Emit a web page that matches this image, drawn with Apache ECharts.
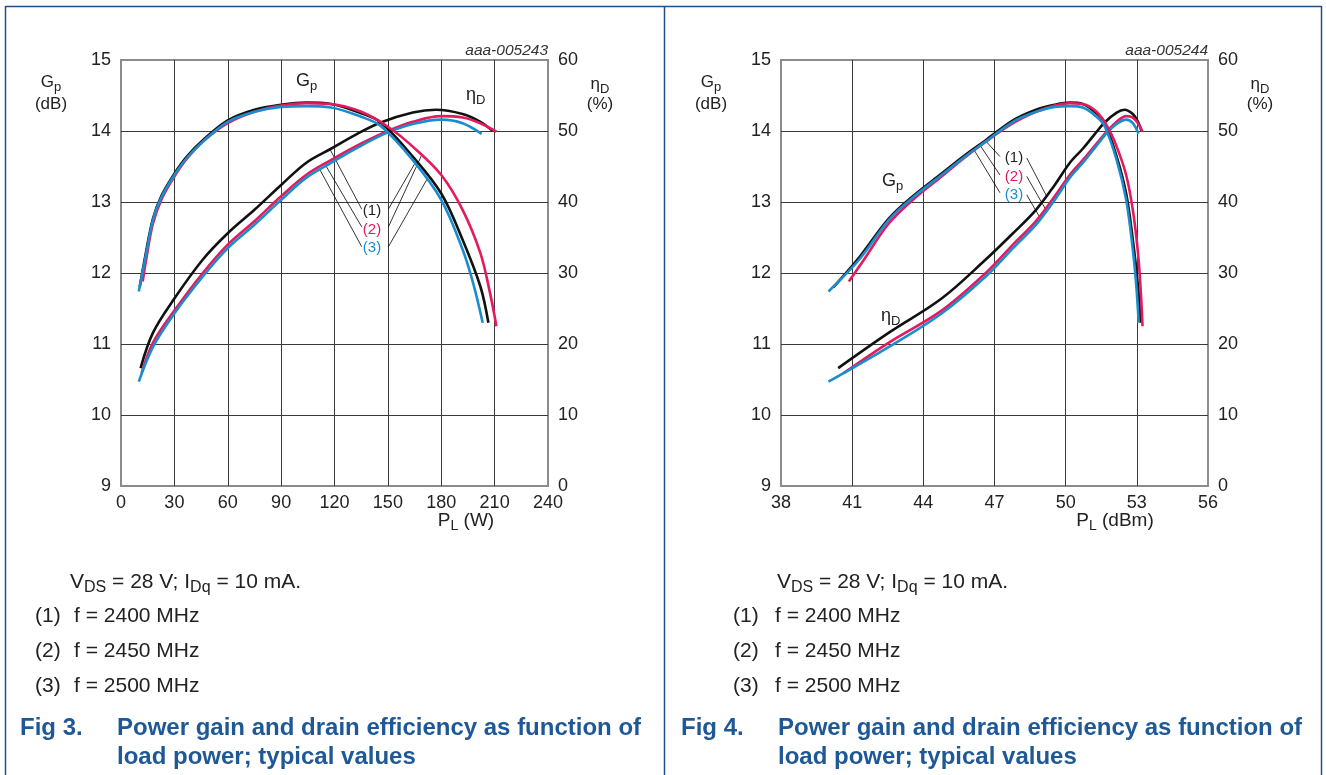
<!DOCTYPE html>
<html><head><meta charset="utf-8">
<script src="https://cdn.jsdelivr.net/npm/echarts@6/dist/echarts.min.js"></script>
<style>html,body{margin:0;padding:0;background:#fff}#c{width:1326px;height:775px}</style>
</head><body><div id="c"></div>
<script>
// ---------- data ----------
// x-axis ticks
const xTicksW = [0, 30, 60, 90, 120, 150, 180, 210, 240];
const xTicksDBm = [38, 41, 44, 47, 50, 53, 56];
// Power gain Gp (dB)
const gp1_W   = [10.5, 13.5, 18, 23, 30, 37, 46, 60, 75, 90, 104, 118, 135, 146, 164, 180, 192, 202, 206.5];
const gp1_dBm = [40.21, 41.30, 42.55, 43.62, 44.77, 45.68, 46.63, 47.78, 48.75, 49.54, 50.17, 50.72, 51.30, 51.64, 52.15, 52.55, 52.83, 53.05, 53.15];
const gp1     = [11.80, 12.22, 12.77, 13.10, 13.40, 13.64, 13.87, 14.15, 14.30, 14.37, 14.40, 14.38, 14.25, 14.12, 13.64, 13.12, 12.47, 11.81, 11.30];

const gp2_W   = [12.2, 14, 18, 23, 30, 37, 46, 60, 75, 90, 104, 118, 135, 150, 164, 180, 192, 202, 207.4, 211];
const gp2_dBm = [40.86, 41.46, 42.55, 43.62, 44.77, 45.68, 46.63, 47.78, 48.75, 49.54, 50.17, 50.72, 51.30, 51.76, 52.15, 52.55, 52.83, 53.05, 53.17, 53.24];
const gp2     = [11.88, 12.17, 12.70, 13.05, 13.36, 13.61, 13.85, 14.11, 14.27, 14.36, 14.39, 14.38, 14.27, 14.06, 13.78, 13.38, 12.89, 12.28, 11.72, 11.25];

const gp3_W   = [10, 13.5, 18, 23, 30, 37, 46, 60, 75, 90, 104, 118, 135, 146, 164, 180, 192, 198, 203.3];
const gp3_dBm = [40.00, 41.30, 42.55, 43.62, 44.77, 45.68, 46.63, 47.78, 48.75, 49.54, 50.17, 50.72, 51.30, 51.64, 52.15, 52.55, 52.83, 52.97, 53.08];
const gp3     = [11.74, 12.19, 12.75, 13.08, 13.38, 13.62, 13.85, 14.13, 14.27, 14.34, 14.35, 14.33, 14.20, 14.07, 13.59, 13.03, 12.33, 11.85, 11.30];

// Drain efficiency etaD (%)
const eta1_W   = [11, 18, 30, 46, 60, 75, 90, 104, 118, 132, 146, 164, 177, 192, 202, 209];
const eta1_dBm = [40.41, 42.55, 44.77, 46.63, 47.78, 48.75, 49.54, 50.17, 50.72, 51.21, 51.64, 52.15, 52.48, 52.83, 53.05, 53.20];
const eta1     = [16.6, 21.6, 26.4, 31.9, 35.6, 38.9, 42.4, 45.5, 47.5, 49.5, 51.2, 52.6, 53.0, 52.4, 51.3, 50.0];

const eta2_W   = [11.6, 18, 30, 46, 60, 75, 90, 104, 118, 134, 150, 164, 180, 192, 202, 211];
const eta2_dBm = [40.64, 42.55, 44.77, 46.63, 47.78, 48.75, 49.54, 50.17, 50.72, 51.27, 51.76, 52.15, 52.55, 52.83, 53.05, 53.24];
const eta2     = [15.9, 20.2, 24.7, 30.0, 34.0, 37.3, 40.8, 43.8, 45.9, 48.1, 50.0, 51.3, 52.1, 51.9, 51.1, 49.9];

const eta3_W   = [10, 18, 30, 46, 60, 75, 90, 104, 118, 134, 150, 164, 180, 192, 202.7];
const eta3_dBm = [40.00, 42.55, 44.77, 46.63, 47.78, 48.75, 49.54, 50.17, 50.72, 51.27, 51.76, 52.15, 52.55, 52.83, 53.07];
const eta3     = [14.7, 19.6, 24.3, 29.5, 33.5, 36.8, 40.3, 43.4, 45.5, 47.8, 49.8, 51.0, 51.6, 51.1, 49.6];

// leader lines (data coords on Gp axis: [x1,y1,x2,y2])
const leadersW = [
  [135.3, 12.90, 117.5, 13.74], [135.3, 12.65, 114.7, 13.53], [135.3, 12.37, 111.9, 13.45],
  [150.3, 12.90, 166.0, 13.58], [150.3, 12.65, 169.0, 13.66], [150.3, 12.37, 172.0, 13.32]
];
const leadersDBm = [
  [47.23, 13.64, 46.60, 13.87], [47.23, 13.38, 46.39, 13.80], [47.23, 13.13, 46.11, 13.75],
  [48.36, 13.62, 49.20, 13.08], [48.36, 13.36, 49.15, 12.90], [48.36, 13.10, 48.95, 12.76]
];

// ---------- styling ----------
const FONT = "'Liberation Sans', Arial, Helvetica, sans-serif";
const C1 = '#111111', C2 = '#e5195e', C3 = '#1b8dcc';
const NAVY = '#1f4f86', TBLUE = '#1e5896';
const zip = (xs, ys) => xs.map((x, i) => [x, ys[i]]);

function curve(xs, ys, color, xi, yi) {
  return { type: 'line', xAxisIndex: xi, yAxisIndex: yi, data: zip(xs, ys), showSymbol: false, symbol: 'none',
    smooth: 0.35, lineStyle: { color: color, width: 2.6 }, silent: true, z: 3 };
}
function leader(a, xi, yi) {
  return { type: 'line', xAxisIndex: xi, yAxisIndex: yi, data: [[a[0], a[1]], [a[2], a[3]]], symbol: 'none',
    lineStyle: { color: '#000', width: 0.8 }, silent: true, z: 2 };
}
function rt(x, y, str, size, color, align, bold, italic) {
  const w = bold ? 'bold' : 'normal';
  const st = italic ? 'italic' : 'normal';
  return { type: 'text', x: x, y: y, silent: true, z: 10,
    style: { text: str, fontSize: size, fontFamily: FONT, fill: color, fontWeight: w, fontStyle: st,
      align: align || 'left', verticalAlign: 'middle',
      rich: {
        n: { fontSize: size, lineHeight: size + 6, fill: color, fontFamily: FONT, fontWeight: w, fontStyle: st },
        s: { fontSize: Math.round(size * 0.74), lineHeight: Math.round(size * 0.7), verticalAlign: 'bottom', fill: color, fontFamily: FONT, fontWeight: w }
      } } };
}

const axisLbl = { fontSize: 18, color: '#222', fontFamily: FONT };
function xAx(gi, min, max, iv) {
  return { type: 'value', gridIndex: gi, min: min, max: max, interval: iv,
    axisLine: { show: false }, axisTick: { show: false },
    axisLabel: Object.assign({ margin: 8 }, axisLbl),
    splitLine: { show: true, showMinLine: false, showMaxLine: false, lineStyle: { color: '#3a3a3a', width: 1 } } };
}
function yAx(gi, min, max, iv, pos, split) {
  return { type: 'value', gridIndex: gi, position: pos, min: min, max: max, interval: iv,
    axisLine: { show: false }, axisTick: { show: false },
    axisLabel: Object.assign({ margin: 10 }, axisLbl),
    splitLine: { show: split, showMinLine: false, showMaxLine: false, lineStyle: { color: '#3a3a3a', width: 1 } } };
}

const series = [
  // left chart (W)
  curve(eta1_W, eta1, C1, 0, 1), curve(eta2_W, eta2, C2, 0, 1), curve(eta3_W, eta3, C3, 0, 1),
  curve(gp1_W, gp1, C1, 0, 0), curve(gp2_W, gp2, C2, 0, 0), curve(gp3_W, gp3, C3, 0, 0),
  // right chart (dBm)
  curve(eta1_dBm, eta1, C1, 1, 3), curve(eta2_dBm, eta2, C2, 1, 3), curve(eta3_dBm, eta3, C3, 1, 3),
  curve(gp1_dBm, gp1, C1, 1, 2), curve(gp2_dBm, gp2, C2, 1, 2), curve(gp3_dBm, gp3, C3, 1, 2)
];
leadersW.forEach(a => series.push(leader(a, 0, 0)));
leadersDBm.forEach(a => series.push(leader(a, 1, 2)));

const g = [];
// panel frames
g.push({ type: 'line', silent: true, shape: { x1: 5.5, y1: 6.5, x2: 1321.5, y2: 6.5 }, style: { stroke: NAVY, lineWidth: 1.5 } });
[5.5, 664.5, 1321.5].forEach(x => g.push({ type: 'line', silent: true, shape: { x1: x, y1: 6, x2: x, y2: 780 }, style: { stroke: NAVY, lineWidth: 1.5 } }));

function panel(dx, code, fig, xname, xnameX, ann, tx) {
  const L = 121 + dx, R = 548 + dx;
  g.push(rt(R, 51, code, 15.5, '#333', 'right', false, true));
  g.push(rt(L - 70, 82, '{n|G}{s|p}', 17, '#222', 'center'));
  g.push(rt(L - 70, 104, '{n|(dB)}', 17, '#222', 'center'));
  g.push(rt(R + 52, 84, '{n|η}{s|D}', 17, '#222', 'center'));
  g.push(rt(R + 52, 104, '{n|(%)}', 17, '#222', 'center'));
  g.push(rt(xnameX, 521, xname, 19, '#222', 'center'));
  // curve labels
  g.push(rt(ann.gp[0], ann.gp[1], '{n|G}{s|p}', 18, '#222', 'left'));
  g.push(rt(ann.eta[0], ann.eta[1], '{n|η}{s|D}', 18, '#222', 'left'));
  g.push(rt(ann.num[0], ann.num[1], '{n|(1)}', 15, '#222', 'center'));
  g.push(rt(ann.num[0], ann.num[1] + 18.5, '{n|(2)}', 15, C2, 'center'));
  g.push(rt(ann.num[0], ann.num[1] + 37, '{n|(3)}', 15, C3, 'center'));
  // notes
  g.push(rt(tx.v, 582, '{n|V}{s|DS}{n| = 28 V; I}{s|Dq}{n| = 10 mA.}', 21, '#222', 'left'));
  const fr = ['(1)', '(2)', '(3)'], fq = ['f = 2400 MHz', 'f = 2450 MHz', 'f = 2500 MHz'];
  for (let i = 0; i < 3; i++) {
    g.push(rt(tx.n, 616 + i * 35, '{n|' + fr[i] + '}', 21, '#222', 'left'));
    g.push(rt(tx.f, 616 + i * 35, '{n|' + fq[i] + '}', 21, '#222', 'left'));
  }
  g.push(rt(tx.fig, 728, '{n|' + fig + '}', 24, TBLUE, 'left', true));
  g.push(rt(tx.fig + 97, 728, '{n|Power gain and drain efficiency as function of}', 24, TBLUE, 'left', true));
  g.push(rt(tx.fig + 97, 757, '{n|load power; typical values}', 24, TBLUE, 'left', true));
}
panel(0, 'aaa-005243', 'Fig 3.', '{n|P}{s|L}{n| (W)}', 466,
  { gp: [296, 81], eta: [466, 95], num: [372, 211] }, { v: 70, n: 35, f: 74, fig: 20 });
panel(660, 'aaa-005244', 'Fig 4.', '{n|P}{s|L}{n| (dBm)}', 1115,
  { gp: [882, 181], eta: [881, 316], num: [1014, 158] }, { v: 777, n: 733, f: 775, fig: 681 });

const chart = echarts.init(document.getElementById('c'), null, { renderer: 'canvas' });
chart.setOption({
  animation: false,
  backgroundColor: '#fff',
  grid: [
    { left: 121, top: 60, width: 427, height: 426, show: true, borderColor: '#8c8c8c', borderWidth: 2, backgroundColor: 'transparent' },
    { left: 781, top: 60, width: 427, height: 426, show: true, borderColor: '#8c8c8c', borderWidth: 2, backgroundColor: 'transparent' }
  ],
  xAxis: [xAx(0, xTicksW[0], xTicksW[xTicksW.length - 1], 30), xAx(1, xTicksDBm[0], xTicksDBm[xTicksDBm.length - 1], 3)],
  yAxis: [yAx(0, 9, 15, 1, 'left', true), yAx(0, 0, 60, 10, 'right', false),
          yAx(1, 9, 15, 1, 'left', true), yAx(1, 0, 60, 10, 'right', false)],
  series: series,
  graphic: g
});
</script>
</body></html>
